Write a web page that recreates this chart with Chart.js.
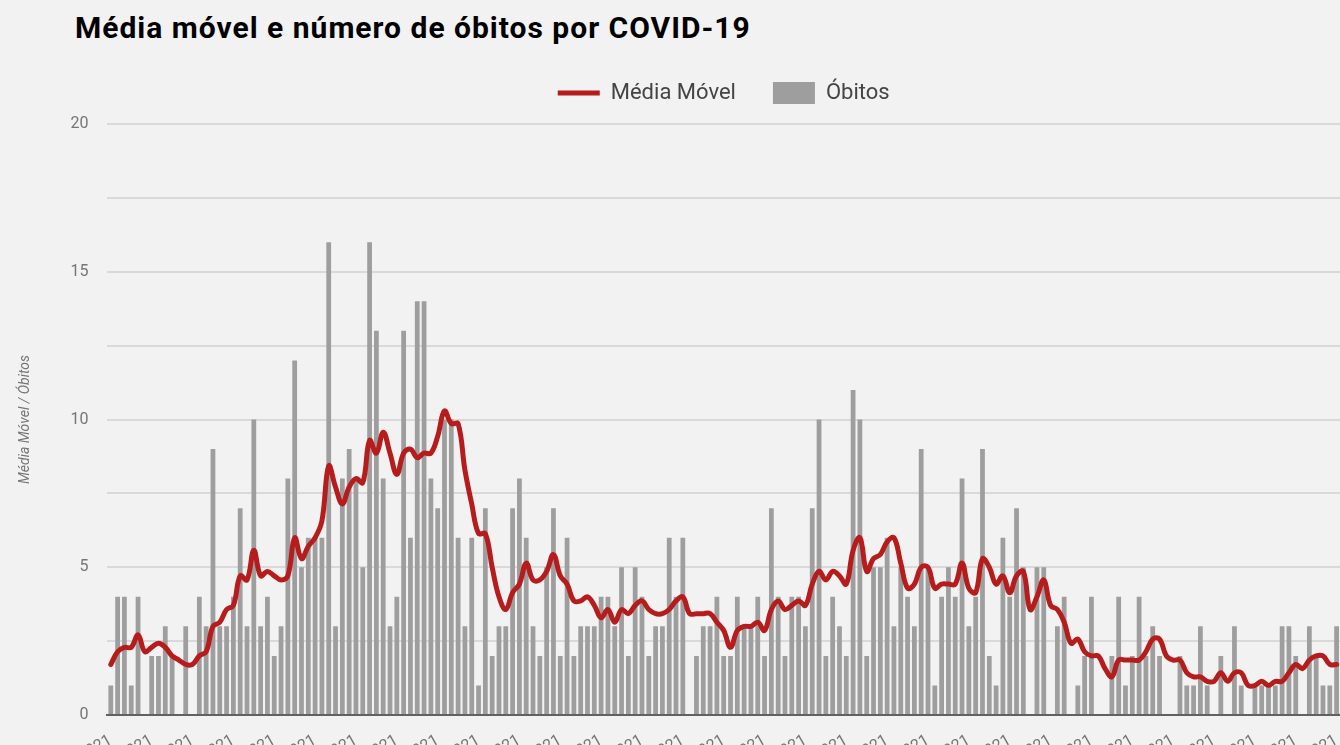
<!DOCTYPE html>
<html lang="pt-BR">
<head>
<meta charset="utf-8">
<title>Média móvel e número de óbitos por COVID-19</title>
<script src="https://cdn.jsdelivr.net/npm/chart.js@4.4.1/dist/chart.umd.min.js"></script>
<style>
  html, body { margin: 0; padding: 0; background: #f2f2f2; overflow: hidden; }
  #wrap { position: relative; width: 1340px; height: 745px; }
  #titulo { position: absolute; left: 75px; top: 10px; margin: 0; font: bold 30px/36px Roboto, sans-serif; letter-spacing: 1px; color: #000; }
  #grafico { position: absolute; left: 0; top: 0; }
</style>
</head>
<body>
<div id="wrap">
  <h1 id="titulo">Média móvel e número de óbitos por COVID-19</h1>
  <canvas id="grafico" width="1340" height="745"></canvas>
</div>
<script>
// óbitos diários
var obitos = [
  1, 4, 4, 1, 4, 0, 2, 2, 3, 2,
  0, 3, 0, 4, 3, 9, 3, 3, 4, 7,
  3, 10, 3, 4, 2, 3, 8, 12, 5, 6,
  6, 6, 16, 3, 8, 9, 8, 5, 16, 13,
  8, 3, 4, 13, 6, 14, 14, 8, 7, 10,
  10, 6, 3, 6, 1, 7, 2, 3, 3, 7,
  8, 6, 3, 2, 5, 7, 2, 6, 2, 3,
  3, 3, 4, 4, 3, 5, 2, 5, 4, 2,
  3, 3, 6, 4, 6, 0, 2, 3, 3, 4,
  2, 2, 4, 3, 3, 4, 2, 7, 4, 2,
  4, 4, 3, 7, 10, 2, 4, 3, 2, 11,
  10, 2, 5, 5, 6, 3, 5, 4, 3, 9,
  5, 1, 4, 5, 4, 8, 3, 4, 9, 2,
  1, 6, 4, 7, 5, 0, 5, 5, 0, 3,
  4, 0, 1, 2, 4, 0, 0, 2, 4, 1,
  2, 4, 2, 3, 2, 0, 0, 2, 1, 1,
  3, 1, 0, 2, 0, 3, 1, 0, 1, 1,
  1, 1, 3, 3, 2, 0, 3, 2, 1, 1,
  3
];

// média móvel (linha vermelha)
var mediaMovel = [
  1.71, 2.14, 2.29, 2.29, 2.71, 2.14, 2.29, 2.43, 2.29, 2.0,
  1.86, 1.71, 1.71, 2.0, 2.14, 3.0, 3.14, 3.57, 3.71, 4.71,
  4.57, 5.57, 4.71, 4.86, 4.71, 4.57, 4.71, 6.0, 5.29, 5.71,
  6.0, 6.57, 8.43, 7.71, 7.14, 7.71, 8.0, 7.86, 9.29, 8.86,
  9.57, 8.86, 8.14, 8.86, 9.0, 8.71, 8.86, 8.86, 9.43, 10.29,
  9.86, 9.86, 8.29, 7.14, 6.14, 6.14, 5.0, 4.0, 3.57, 4.14,
  4.43, 5.14, 4.57, 4.57, 4.86, 5.43, 4.71, 4.43, 3.86, 3.86,
  4.0, 3.71, 3.29, 3.57, 3.14, 3.57, 3.43, 3.71, 3.86, 3.57,
  3.43, 3.43, 3.57, 3.86, 4.0, 3.43, 3.43, 3.43, 3.43, 3.14,
  2.86, 2.29, 2.86, 3.0, 3.0, 3.14, 2.86, 3.57, 3.86, 3.57,
  3.71, 3.86, 3.71, 4.43, 4.86, 4.57, 4.86, 4.71, 4.43, 5.57,
  6.0, 4.86, 5.29, 5.43, 5.86, 6.0, 5.14, 4.29, 4.43, 5.0,
  5.0, 4.29, 4.43, 4.43, 4.43, 5.14, 4.29, 4.14, 5.29, 5.0,
  4.43, 4.71, 4.14, 4.71, 4.86, 3.57, 4.0, 4.57, 3.71, 3.57,
  3.14, 2.43, 2.57, 2.14, 2.0, 2.0, 1.57, 1.29, 1.86, 1.86,
  1.86, 1.86, 2.14, 2.57, 2.57, 2.0, 1.86, 1.86, 1.43, 1.29,
  1.29, 1.14, 1.14, 1.43, 1.14, 1.43, 1.43, 1.0, 1.0, 1.14,
  1.0, 1.14, 1.14, 1.43, 1.71, 1.57, 1.86, 2.0, 2.0, 1.71,
  1.71
];

// uma data por barra, dd/mm/aaaa
var datas = [];
for (var d = 0; d < obitos.length; d++) {
  var dia = new Date(2021, 0, 1 + d);
  datas.push(String(dia.getDate()).padStart(2, '0') + '/' +
             String(dia.getMonth() + 1).padStart(2, '0') + '/' + dia.getFullYear());
}

var marcasY = [0, 5, 10, 15, 20];

Chart.defaults.font.family = "Roboto, 'Noto Sans', sans-serif";

// espaço extra entre a legenda e a área do gráfico
var margemLegenda = {
  id: 'margemLegenda',
  beforeInit: function (chart) {
    var fitOriginal = chart.legend.fit;
    chart.legend.fit = function () {
      fitOriginal.call(this);
      this.height += 10;
    };
  }
};

var ctx = document.getElementById('grafico');
var grafico = new Chart(ctx, {
  type: 'bar',
  data: {
    labels: datas,
    datasets: [{
      type: 'line',
      label: 'Média Móvel',
      data: mediaMovel,
      borderColor: '#b71c1c',
      backgroundColor: '#b71c1c',
      borderWidth: 5,
      pointRadius: 0,
      tension: 0.4,
      borderJoinStyle: 'round',
      borderCapStyle: 'round'
    }, {
      type: 'bar',
      label: 'Óbitos',
      data: obitos,
      backgroundColor: '#9e9e9e',
      borderColor: '#9e9e9e',
      borderWidth: 0,
      categoryPercentage: 1,
      barPercentage: 0.7
    }]
  },
  options: {
    responsive: false,
    animation: false,
    layout: {
      padding: { left: 13, top: 45, right: 0, bottom: 0 }
    },
    plugins: {
      legend: {
        position: 'top',
        fullSize: false,
        labels: {
          usePointStyle: true,
          pointStyleWidth: 42,
          boxHeight: 22,
          padding: 37,
          color: '#444',
          font: { size: 22 },
          generateLabels: function (chart) {
            var itens = Chart.defaults.plugins.legend.labels.generateLabels(chart);
            itens[0].pointStyle = 'line';
            itens[1].pointStyle = 'rect';
            return itens;
          }
        }
      },
      tooltip: { enabled: false }
    },
    scales: {
      x: {
        grid: { display: false, drawTicks: false },
        border: { display: true, color: '#616161', width: 2 },
        ticks: {
          autoSkip: false,
          minRotation: 30,
          maxRotation: 30,
          padding: 16,
          color: '#757575',
          font: { size: 16 },
          callback: function (valor, i) {
            return i % 6 === 0 ? this.getLabelForValue(valor) : '';
          }
        },
        afterFit: function (escala) {
          escala.height = 30;
          escala.paddingLeft = 0;
          escala.paddingRight = 0;
        }
      },
      y: {
        min: 0,
        max: 20,
        grid: { color: '#d9d9d9', lineWidth: 2, drawTicks: false },
        border: { display: false },
        ticks: {
          stepSize: 2.5,
          padding: 19,
          color: '#757575',
          font: { size: 16 },
          callback: function (valor) {
            return marcasY.indexOf(valor) >= 0 ? valor : '';
          }
        },
        title: {
          display: true,
          text: 'Média Móvel / Óbitos',
          color: '#757575',
          font: { size: 14, style: 'italic' },
          padding: { top: 4, bottom: 4 }
        },
        afterFit: function (escala) {
          escala.width = 94.4;
        }
      }
    }
  },
  plugins: [margemLegenda]
});
</script>
</body>
</html>
